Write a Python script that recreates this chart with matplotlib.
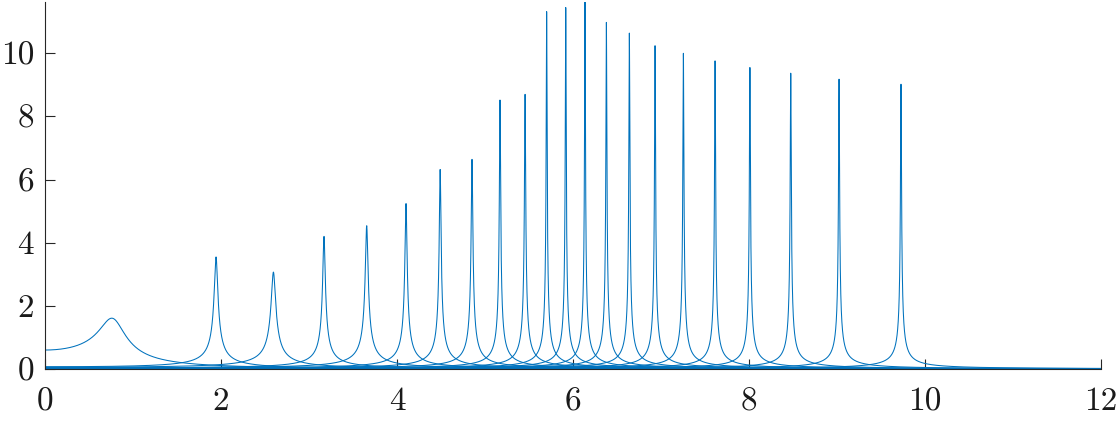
import numpy as np
import matplotlib
matplotlib.use('Agg')
import matplotlib.pyplot as plt

# resonance peaks: position, peak height, damping ratio
peak_pos = [0.758, 1.943, 2.595, 3.170, 3.655, 4.102, 4.490, 4.852, 5.170, 5.455, 5.700,
            5.917, 6.136, 6.379, 6.640, 6.932, 7.254, 7.614, 8.010, 8.474, 9.023, 9.727]
peak_height = [1.61, 3.55, 3.07, 4.20, 4.54, 5.24, 6.32, 6.64, 8.52, 8.70, 11.32,
               11.45, 11.63, 10.98, 10.64, 10.24, 10.00, 9.76, 9.55, 9.37, 9.18, 9.02]
damping = [0.19, 0.0101, 0.0094, 0.0044, 0.0041, 0.0028, 0.0021, 0.0018, 0.00125, 0.00116, 0.00082,
           0.00078, 0.00074, 0.00076, 0.00075, 0.00073, 0.00072, 0.00067, 0.00065, 0.00063, 0.00059, 0.00055]

x_ticks = [0, 2, 4, 6, 8, 10, 12]
y_ticks = [0, 2, 4, 6, 8, 10]

plt.rcParams['font.family'] = 'serif'
plt.rcParams['font.serif'] = ['cmr10']
plt.rcParams['axes.formatter.use_mathtext'] = True

fig = plt.figure(figsize=(11.18, 4.22), dpi=100)
ax = fig.add_axes([0.0403, 0.1256, 0.9445, 0.8700])

w = np.linspace(0, 12, 60001)
for xp, h, z in zip(peak_pos, peak_height, damping):
    wn = xp / np.sqrt(1 - 2 * z**2)
    H = 1.0 / np.sqrt((wn**2 - w**2)**2 + (2 * z * wn * w)**2)
    ax.plot(w, H * h / H.max(), color='#0072BD', lw=0.75)

ax.set_xlim(0, 12)
ax.set_ylim(0, max(peak_height))
ax.set_xticks(x_ticks, [str(t) for t in x_ticks])
ax.set_yticks(y_ticks, [str(t) for t in y_ticks])
ax.spines['top'].set_visible(False)
ax.spines['right'].set_visible(False)
for s in ['left', 'bottom']:
    ax.spines[s].set_color('#262626')
    ax.spines[s].set_linewidth(0.8)
ax.tick_params(direction='in', length=7.5, width=0.8, color='#262626',
               labelcolor='#1a1a1a', labelsize=24)
ax.tick_params(axis='x', pad=13)
ax.tick_params(axis='y', pad=8)

fig.savefig('out.png', dpi=100)
